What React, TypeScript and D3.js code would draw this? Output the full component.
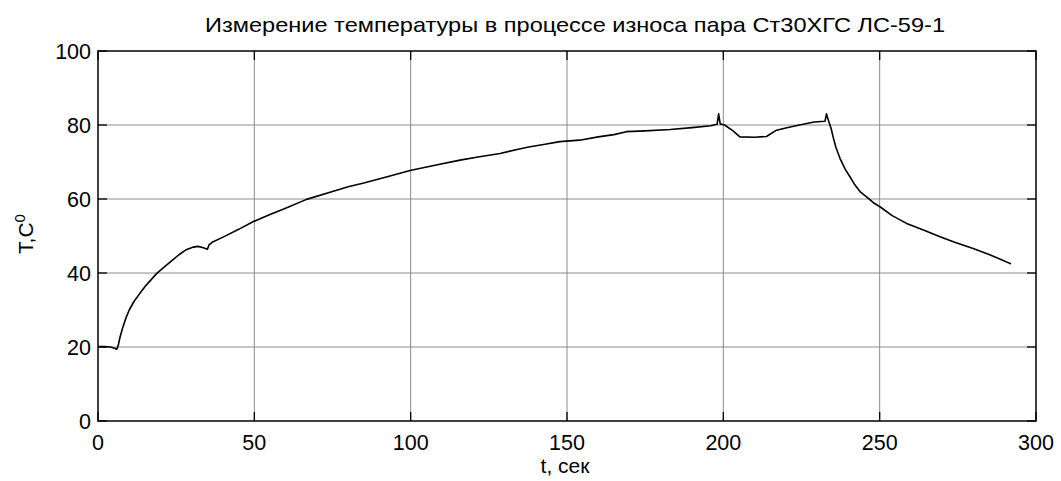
import React from "react";
import * as d3 from "d3";

const timeSec = [0, 2, 4, 5.5, 6, 6.5, 7, 8, 9, 10, 11.5, 13.4, 15.5, 18.8, 22, 26, 28, 30.5, 32, 33.7, 35, 35.5, 36.5, 40, 45, 49.7, 55, 60, 66.7, 75, 80, 85, 93.4, 99.8, 107, 115.8, 122, 128.6, 134, 138.2, 143, 147.7, 154, 160, 165, 169, 175, 183, 190, 196, 198, 198.5, 199, 200.4, 203, 205.3, 210, 213.8, 217, 221, 225.5, 229, 232.5, 233, 233.7, 234.5, 235.1, 236, 237.3, 239, 240.5, 242, 243.7, 245.8, 248, 250.1, 254, 258.6, 264, 269.3, 274, 279.9, 285, 289, 291.6, 292];
const tempC = [20.1, 20.1, 20.0, 19.6, 19.4, 20.5, 22.5, 25.5, 28, 30, 32.3, 34.5, 36.8, 39.9, 42.2, 45, 46.2, 47, 47.2, 46.8, 46.4, 47.6, 48.3, 49.7, 51.8, 53.9, 55.8, 57.5, 59.9, 62, 63.3, 64.3, 66.2, 67.7, 69, 70.5, 71.4, 72.3, 73.4, 74.1, 74.8, 75.5, 75.9, 76.8, 77.4, 78.2, 78.4, 78.8, 79.3, 79.8, 80.2, 83, 80.3, 80, 78.5, 76.8, 76.7, 76.9, 78.6, 79.4, 80.2, 80.8, 81, 83, 81, 79, 76.8, 74, 71, 68, 66, 63.9, 62, 60.6, 59, 57.9, 55.5, 53.4, 51.6, 49.8, 48.3, 46.6, 45, 43.6, 42.6, 42.5];

const xTicks = [0, 50, 100, 150, 200, 250, 300];
const yTicks = [0, 20, 40, 60, 80, 100];

const titleText = "Измерение температуры в процессе износа пара Ст30ХГС ЛС-59-1";
const xLabel = "t, сек";

export default function App() {
  const W = 1061, H = 481;
  const L = 98, R = 1036, T = 51, B = 421;
  const x = d3.scaleLinear().domain([0, 300]).range([L, R]);
  const y = d3.scaleLinear().domain([0, 100]).range([B, T]);
  const pts: [number, number][] = timeSec.map((t, i) => [t, tempC[i]]);
  const line = d3.line<[number, number]>().x(d => x(d[0])).y(d => y(d[1]));
  const font = "'Liberation Sans', Arial, sans-serif";
  const tl = 9;
  return (
    <div style={{ position: "absolute", left: 0, top: 0 }}>
      <svg width={W} height={H} style={{ display: "block", background: "#fff" }} fontFamily={font}>
        <rect x={0} y={0} width={W} height={H} fill="#fff" />
        {xTicks.slice(1, -1).map(v => (
          <line key={"gx" + v} x1={x(v)} x2={x(v)} y1={T} y2={B} stroke="#8c8c8c" strokeWidth={1} />
        ))}
        {yTicks.slice(1, -1).map(v => (
          <line key={"gy" + v} x1={L} x2={R} y1={y(v)} y2={y(v)} stroke="#8c8c8c" strokeWidth={1} />
        ))}
        {xTicks.map(v => (
          <g key={"tx" + v}>
            <line x1={x(v)} x2={x(v)} y1={B} y2={B - tl} stroke="#000" strokeWidth={1.3} />
            <line x1={x(v)} x2={x(v)} y1={T} y2={T + tl} stroke="#000" strokeWidth={1.3} />
            <text x={x(v)} y={450} fontSize={21.5} textAnchor="middle" fill="#000">{v}</text>
          </g>
        ))}
        {yTicks.map(v => (
          <g key={"ty" + v}>
            <line x1={L} x2={L + tl} y1={y(v)} y2={y(v)} stroke="#000" strokeWidth={1.3} />
            <line x1={R} x2={R - tl} y1={y(v)} y2={y(v)} stroke="#000" strokeWidth={1.3} />
            <text x={91} y={y(v) + 7.5} fontSize={21.5} textAnchor="end" fill="#000">{v}</text>
          </g>
        ))}
        <rect x={L} y={T} width={R - L} height={B - T} fill="none" stroke="#000" strokeWidth={1.5} />
        <path d={line(pts) || ""} fill="none" stroke="#000" strokeWidth={1.6} strokeLinejoin="round" />
        <text x={(L + R) / 2 + 8} y={32} fontSize={21} textAnchor="middle" textLength={740} lengthAdjust="spacingAndGlyphs" fill="#000">{titleText}</text>
        <text x={565} y={473} fontSize={21} textAnchor="middle" fill="#000">{xLabel}</text>
        <text transform={`translate(33, ${234}) rotate(-90)`} fontSize={21} textAnchor="middle" fill="#000">
          T,C<tspan dy={-8} fontSize={15}>0</tspan>
        </text>
      </svg>
    </div>
  );
}
